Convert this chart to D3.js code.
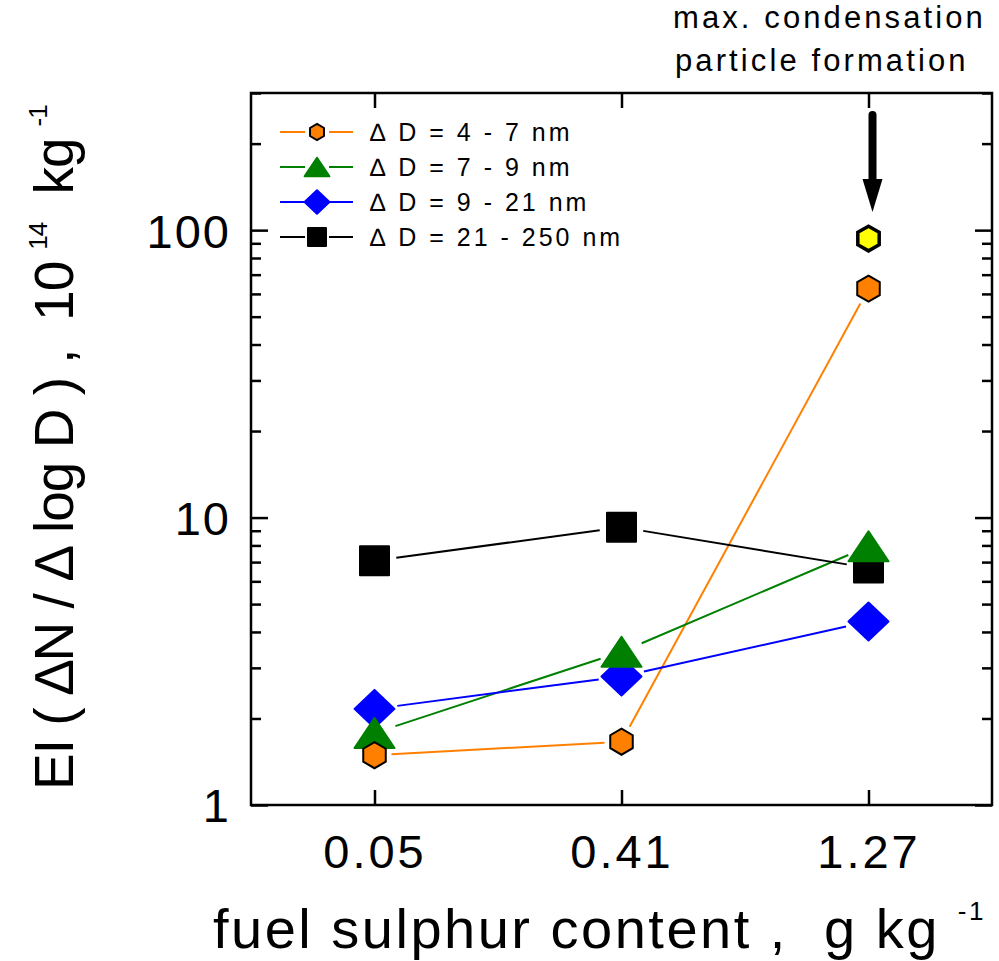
<!DOCTYPE html>
<html>
<head>
<meta charset="utf-8">
<script src="https://cdn.jsdelivr.net/npm/d3@7"></script>
<style>
  body { margin: 0; background: #fff; }
  text { font-family: "Liberation Sans", Arial, sans-serif; fill: #000; white-space: pre; }
</style>
</head>
<body>
<div id="chart"></div>
<script>
// Chart size
var svgWidth = 999;
var svgHeight = 961;

// plot frame in pixels
var margin = { top: 93, right: 7, bottom: 156, left: 251 };
var width = svgWidth - margin.left - margin.right;
var height = svgHeight - margin.top - margin.bottom;

// Data
var sulphur = ["0.05", "0.41", "1.27"];
var seriesNames = ["\u2206 D = 4 - 7 nm", "\u2206 D = 7 - 9 nm", "\u2206 D = 9 - 21 nm", "\u2206 D = 21 - 250 nm"];
var ei4to7 = [1.49, 1.66, 62.6];
var ei7to9 = [1.78, 3.41, 7.94];
var ei9to21 = [2.16, 2.80, 4.35];
var ei21to250 = [7.08, 9.25, 6.68];
var maxCondensation = [{ x: "1.27", y: 93.5 }];
var yTicks = [1, 10, 100];

var series = [
  { name: seriesNames[0], values: ei4to7, color: "#ff8000", shape: "hexagon", gap: 17 },
  { name: seriesNames[1], values: ei7to9, color: "#008000", shape: "triangle", gap: 22 },
  { name: seriesNames[2], values: ei9to21, color: "#0000ff", shape: "diamond", gap: 23 },
  { name: seriesNames[3], values: ei21to250, color: "#000000", shape: "square", gap: 22 }
];

var svg = d3.select("#chart")
  .append("svg")
  .attr("width", svgWidth)
  .attr("height", svgHeight);

var chartGroup = svg.append("g")
  .attr("transform", `translate(${margin.left}, ${margin.top})`);

// scales
var xScale = d3.scalePoint()
  .domain(sulphur)
  .range([0, width])
  .padding(0.5);

var yScale = d3.scaleLog()
  .domain([1, 300])
  .range([height, 0]);

// marker shapes, s = scale factor
function markerPath(shape, s) {
  var p = d3.path();
  if (shape === "hexagon") {
    var r = 13 * s;
    for (var i = 0; i < 6; i++) {
      var a = Math.PI / 3 * i - Math.PI / 2;
      var px = r * Math.cos(a), py = r * Math.sin(a);
      if (i === 0) p.moveTo(px, py); else p.lineTo(px, py);
    }
    p.closePath();
  } else if (shape === "triangle") {
    var w = 20 * s, h = 15 * s;
    p.moveTo(0, -h); p.lineTo(w, h); p.lineTo(-w, h); p.closePath();
  } else if (shape === "diamond") {
    var dw = 20 * s, dh = 19 * s;
    p.moveTo(0, -dh); p.lineTo(dw, 0); p.lineTo(0, dh); p.lineTo(-dw, 0); p.closePath();
  } else {
    var q = 14.5 * s;
    p.rect(-q, -q, 2 * q, 2 * q);
  }
  return p.toString();
}

function markerStyle(sel, d) {
  if (d.shape === "hexagon") {
    sel.attr("fill", d.color).attr("stroke", "#000").attr("stroke-width", 2);
  } else {
    sel.attr("fill", d.color).attr("stroke", d.color).attr("stroke-width", 2).attr("stroke-linejoin", "round");
  }
}

// connecting lines, with a gap round each marker
series.forEach(function(s) {
  for (var i = 0; i < s.values.length - 1; i++) {
    var x1 = xScale(sulphur[i]), y1 = yScale(s.values[i]);
    var x2 = xScale(sulphur[i + 1]), y2 = yScale(s.values[i + 1]);
    var len = Math.hypot(x2 - x1, y2 - y1);
    var ux = (x2 - x1) / len, uy = (y2 - y1) / len;
    chartGroup.append("line")
      .attr("x1", x1 + ux * s.gap).attr("y1", y1 + uy * s.gap)
      .attr("x2", x2 - ux * s.gap).attr("y2", y2 - uy * s.gap)
      .attr("stroke", s.color)
      .attr("stroke-width", 2);
  }
});

// markers, last series first so the hexagons end up on the bottom
series.slice().reverse().forEach(function(s) {
  chartGroup.selectAll(null)
    .data(s.values)
    .enter()
    .append("path")
    .attr("d", markerPath(s.shape, 1))
    .attr("transform", (d, i) => `translate(${xScale(sulphur[i])}, ${yScale(d)})`)
    .each(function() { markerStyle(d3.select(this), s); });
});

// yellow point
chartGroup.selectAll(".maxpt")
  .data(maxCondensation)
  .enter()
  .append("path")
  .attr("class", "maxpt")
  .attr("d", markerPath("hexagon", 0.95))
  .attr("transform", d => `translate(${xScale(d.x)}, ${yScale(d.y)})`)
  .attr("fill", "#ffff00")
  .attr("stroke", "#000")
  .attr("stroke-width", 3.5);

// frame
chartGroup.append("rect")
  .attr("width", width)
  .attr("height", height)
  .attr("fill", "none")
  .attr("stroke", "#000")
  .attr("stroke-width", 2.5);

// axes, ticks pointing inward
var minorTicks = yScale.ticks(30).filter(t => yTicks.indexOf(t) < 0);

var leftAxis = d3.axisLeft(yScale).tickValues(yTicks).tickSize(-17).tickFormat(d3.format("d")).tickPadding(20);
var rightAxis = d3.axisRight(yScale).tickValues(yTicks).tickSize(-17).tickFormat("");
var bottomAxis = d3.axisBottom(xScale).tickSize(-15).tickPadding(30);
var topAxis = d3.axisTop(xScale).tickSize(-15).tickFormat("");

var gl = chartGroup.append("g").call(leftAxis);
chartGroup.append("g").attr("transform", `translate(${width}, 0)`).call(rightAxis);
var gb = chartGroup.append("g").attr("transform", `translate(0, ${height})`).call(bottomAxis);
chartGroup.append("g").call(topAxis);

chartGroup.append("g").call(d3.axisLeft(yScale).tickValues(minorTicks).tickSize(-10).tickFormat(""));
chartGroup.append("g").attr("transform", `translate(${width}, 0)`)
  .call(d3.axisRight(yScale).tickValues(minorTicks).tickSize(-10).tickFormat(""));

chartGroup.selectAll(".domain").remove();
chartGroup.selectAll(".tick line").attr("stroke", "#000").attr("stroke-width", 2.5);
gl.selectAll(".tick text").attr("font-size", "47px").attr("letter-spacing", "2px").attr("dy", "0.36em");
gb.selectAll(".tick text").attr("font-size", "47px").attr("letter-spacing", "3px");

// legend
var legend = chartGroup.append("g").attr("transform", "translate(29, 39)");
series.forEach(function(s, i) {
  var row = legend.append("g").attr("transform", `translate(0, ${i * 35})`);
  row.append("line").attr("x1", 0).attr("x2", 25).attr("stroke", s.color).attr("stroke-width", 2);
  row.append("line").attr("x1", 49).attr("x2", 73).attr("stroke", s.color).attr("stroke-width", 2);
  row.append("path")
    .attr("d", markerPath(s.shape, 0.62))
    .attr("transform", "translate(37, 0)")
    .each(function() { markerStyle(d3.select(this), s); });
  row.append("text")
    .attr("x", 90)
    .attr("y", 9)
    .attr("font-size", "25px")
    .attr("letter-spacing", "3px")
    .text(s.name);
});

// arrow pointing at the yellow point
var ax = xScale("1.27") + 4;
chartGroup.append("line")
  .attr("x1", ax).attr("y1", 22)
  .attr("x2", ax).attr("y2", 92)
  .attr("stroke", "#000")
  .attr("stroke-width", 8)
  .attr("stroke-linecap", "round");
chartGroup.append("path")
  .attr("d", `M${ax - 10},86 L${ax + 10},86 L${ax},119 Z`)
  .attr("fill", "#000");

svg.append("text")
  .attr("x", 673).attr("y", 28)
  .attr("font-size", "31px")
  .attr("letter-spacing", "3.1px")
  .text("max. condensation");
svg.append("text")
  .attr("x", 675).attr("y", 71)
  .attr("font-size", "31px")
  .attr("letter-spacing", "3.1px")
  .text("particle formation");

// axis titles
var xTitle = svg.append("text")
  .attr("x", 213)
  .attr("y", 948)
  .attr("font-size", "56px")
  .attr("letter-spacing", "2.5px");
xTitle.append("tspan").text("fuel sulphur content ,  g kg");
xTitle.append("tspan").attr("font-size", "26px").attr("dx", 18).attr("dy", -28).text("-1");

var yTitle = svg.append("text")
  .attr("transform", "translate(73, 790) rotate(-90)")
  .attr("font-size", "55px")
  .attr("letter-spacing", "-1px");
yTitle.append("tspan").text("EI ( \u2206N / \u2206 log D ) ,  10");
yTitle.append("tspan").attr("font-size", "26px").attr("dx", 12).attr("dy", -26).text("14");
yTitle.append("tspan").attr("dy", 26).attr("dx", 14).text(" kg");
yTitle.append("tspan").attr("font-size", "26px").attr("dx", 12).attr("dy", -26).text("-1");
</script>
</body>
</html>
